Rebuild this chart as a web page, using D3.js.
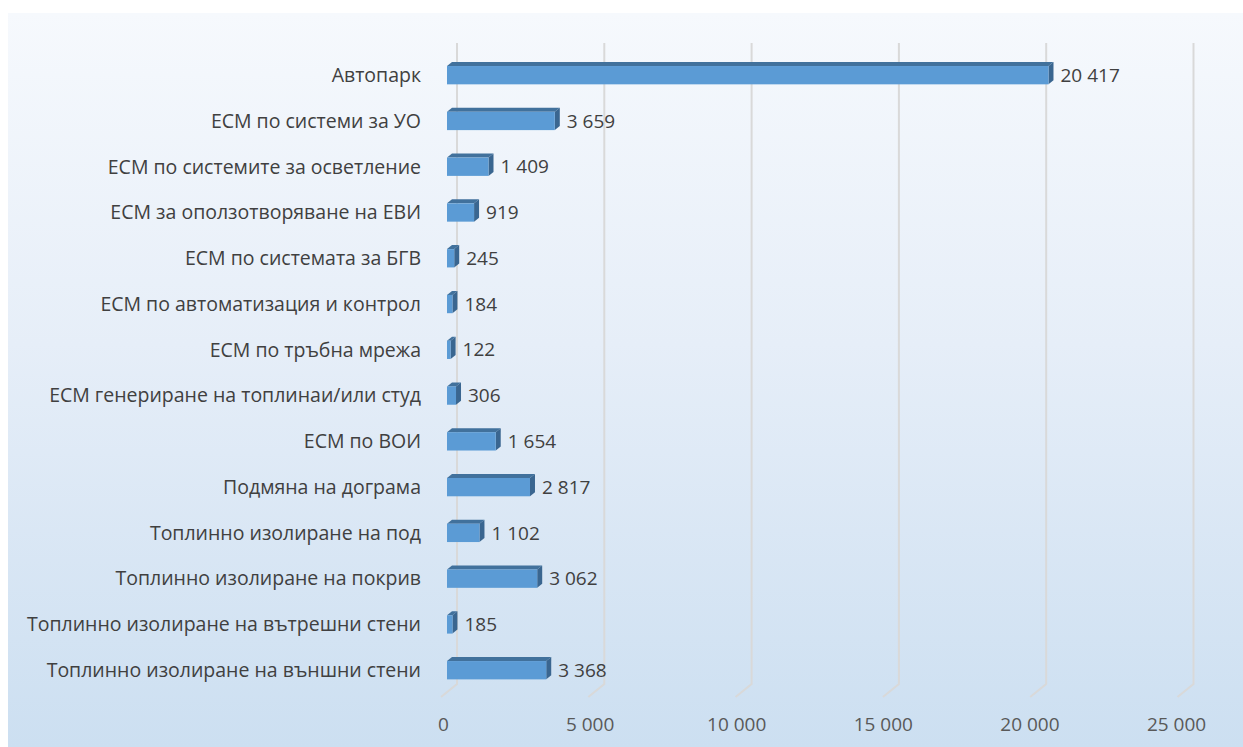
<!DOCTYPE html>
<html>
<head>
<meta charset="utf-8">
<script src="https://cdn.jsdelivr.net/npm/d3@7"></script>
<style>
  body { margin: 0; background: #ffffff; }
  svg { display: block; }
  text { font-family: "Open Sans", "Noto Sans", sans-serif; }
</style>
</head>
<body>
<script>
// Data
const categories = [
  "Автопарк",
  "ЕСМ по системи за УО",
  "ЕСМ по системите за осветление",
  "ЕСМ за оползотворяване на ЕВИ",
  "ЕСМ по системата за БГВ",
  "ЕСМ по автоматизация и контрол",
  "ЕСМ по тръбна мрежа",
  "ЕСМ генериране на топлинаи/или студ",
  "ЕСМ по ВОИ",
  "Подмяна на дограма",
  "Топлинно изолиране на под",
  "Топлинно изолиране на покрив",
  "Топлинно изолиране на вътрешни стени",
  "Топлинно изолиране на външни стени"
];
const values = [20417, 3659, 1409, 919, 245, 184, 122, 306, 1654, 2817, 1102, 3062, 185, 3368];
const tickValues = [0, 5000, 10000, 15000, 20000, 25000];

// Layout
const WIDTH = 1243;
const HEIGHT = 747;
const FLOOR_X0 = 441;      // front edge of the floor at value 0
const BAR_X0 = 447;        // front face of the bars at value 0
const WALL_DX = 16, WALL_DY = 13;  // back wall offset
const BAR_DX = 5, BAR_DY = 4;      // bar depth
const GRID_TOP = 43, GRID_BOTTOM = 684;

const locale = d3.formatLocale({ decimal: ",", thousands: " ", grouping: [3], currency: ["", ""] });
const fmt = locale.format(",");

const svg = d3.select("body")
  .append("svg")
  .attr("width", WIDTH)
  .attr("height", HEIGHT);

// Background gradient
const defs = svg.append("defs");
const grad = defs.append("linearGradient")
  .attr("id", "bg")
  .attr("x1", 0).attr("y1", 0).attr("x2", 0).attr("y2", 1);
grad.append("stop").attr("offset", "0%").attr("stop-color", "#f6f9fd");
grad.append("stop").attr("offset", "45%").attr("stop-color", "#e6eef8");
grad.append("stop").attr("offset", "100%").attr("stop-color", "#ccdff1");

svg.append("rect")
  .attr("x", 8).attr("y", 13)
  .attr("width", WIDTH - 8).attr("height", HEIGHT - 13)
  .attr("fill", "url(#bg)");

// Scales
const xScale = d3.scaleLinear()
  .domain([0, 25000])
  .range([0, 736.5]);

const yScale = d3.scaleBand()
  .domain(categories)
  .range([52.3, 693.1])
  .paddingInner(0.6)
  .paddingOuter(0.3);

// Gridlines (back wall + floor)
svg.append("g")
  .selectAll("path")
  .data(tickValues)
  .join("path")
  .attr("d", (d) => {
    const fx = FLOOR_X0 + xScale(d);
    const bx = fx + WALL_DX;
    return `M${bx},${GRID_TOP} L${bx},${GRID_BOTTOM} L${fx},${GRID_BOTTOM + WALL_DY}`;
  })
  .attr("fill", "none")
  .attr("stroke", "#d9d9d9")
  .attr("stroke-width", 2);

// X axis labels
const xAxis = d3.axisBottom(d3.scaleLinear().domain([0, 25000]).range([FLOOR_X0 + 2, FLOOR_X0 + 2 + 733]))
  .tickValues(tickValues)
  .tickFormat(fmt)
  .tickSize(0)
  .tickPadding(0);

const axisG = svg.append("g")
  .attr("transform", `translate(0, 717)`)
  .call(xAxis);
axisG.select(".domain").remove();
axisG.selectAll("text")
  .attr("fill", "#595959")
  .style("font-size", "19px")
  .style("font-family", "'Open Sans', sans-serif");

// Category labels
svg.append("g")
  .selectAll("text")
  .data(categories)
  .join("text")
  .attr("x", 421)
  .attr("y", (d) => yScale(d) + yScale.bandwidth() / 2)
  .attr("dy", "0.35em")
  .attr("text-anchor", "end")
  .attr("fill", "#404040")
  .style("font-size", "19.5px")
  .text((d) => d);

// Bars
const bars = svg.append("g")
  .selectAll("g")
  .data(categories.map((c, i) => ({ cat: c, value: values[i] })))
  .join("g");

bars.each(function (d) {
  const g = d3.select(this);
  const x0 = BAR_X0;
  const x1 = BAR_X0 + Math.max(xScale(d.value), 2);
  const y = yScale(d.cat);
  const h = yScale.bandwidth();

  g.append("polygon")
    .attr("points", [[x0, y], [x0 + BAR_DX, y - BAR_DY], [x1 + BAR_DX, y - BAR_DY], [x1, y]].join(" "))
    .attr("fill", "#41719c");
  g.append("polygon")
    .attr("points", [[x1, y], [x1 + BAR_DX, y - BAR_DY], [x1 + BAR_DX, y + h - BAR_DY], [x1, y + h]].join(" "))
    .attr("fill", "#3a6690");
  g.append("rect")
    .attr("x", x0)
    .attr("y", y)
    .attr("width", x1 - x0)
    .attr("height", h)
    .attr("fill", "#5b9bd5");

  g.append("text")
    .attr("x", x1 + 12)
    .attr("y", y + h / 2)
    .attr("dy", "0.35em")
    .attr("fill", "#404040")
    .style("font-size", "19px")
    .text(fmt(d.value));
});
</script>
</body>
</html>
